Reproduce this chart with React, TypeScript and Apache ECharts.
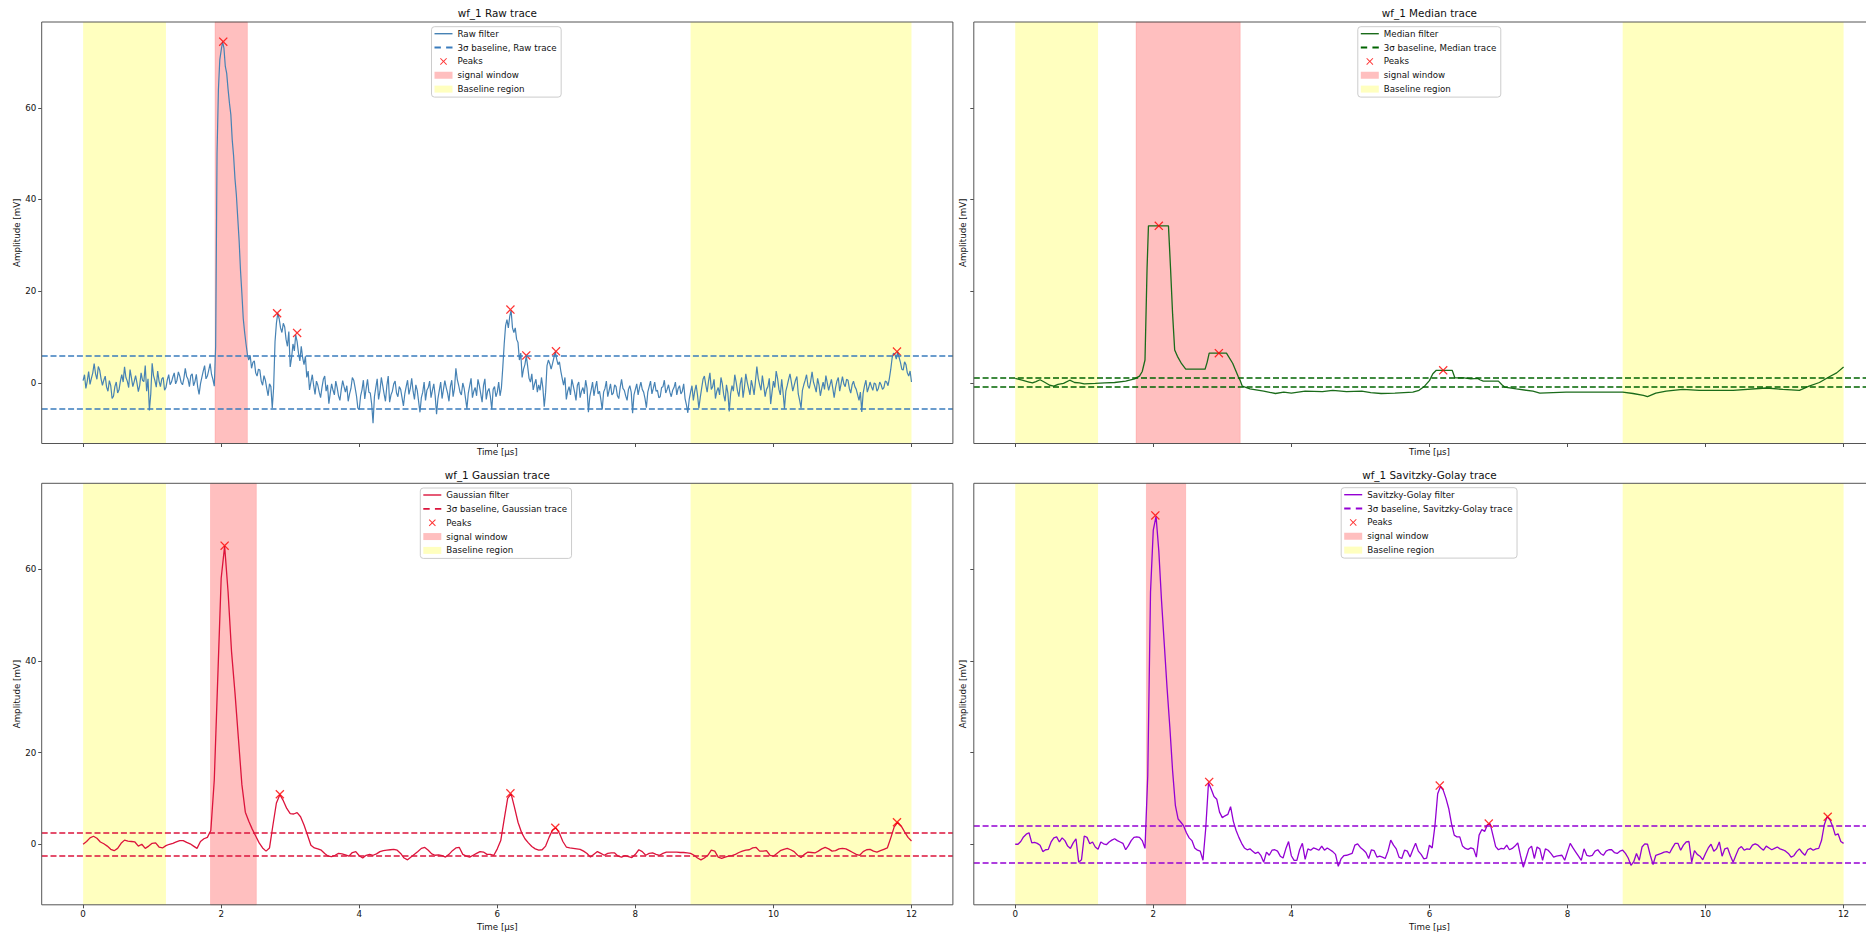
import React, { useEffect, useRef } from 'react';
import * as echarts from 'echarts';

// ---------- data ----------
const DT_RAW = 0.02;
const DT_GAUSS = 0.05;
const DT_SG = 0.04;

const RAW_VALUES = [
  0.5, 1.8, -1.2, 0.4, 2.5, -0.3, 1.0, 2.2, 4.2, 2.0, 0.8, 3.6, 2.8, 0.9, -0.5, 0.6, 1.5, -0.9, -1.8, 0.5,
  -0.6, -3.4, -2.9, -0.8, 0.2, -2.2, -1.5, 0.4, 1.8, 0.2, 3.5, 1.2, 0.4, -1.0, 2.9, 1.1, -0.8, 0.3, 1.6, 0.0,
  -1.9, -0.5, 2.2, 0.6, 0.3, 3.8, -1.8, 0.9, -6.0, -2.4,
  4.3, 1.6, 0.5, -0.9, 2.6, 0.4, -0.8, 0.9, 1.2, -1.6, -1.0, 0.7, 1.8, -0.4, 0.2, 1.3, 2.2, -0.2, 0.6, 2.4,
  1.5, 0.1, -0.4, 1.0, 3.2, 1.4, 0.8, -0.8, 1.6, 2.0, -0.6, 0.3, 1.9, -0.9, -2.5, -0.2, 1.2, 2.6, 3.8, 0.9,
  1.5, 2.8, 4.2, 1.9, 0.8, -0.7, 8.0, 50.0, 64.0, 70.5,
  72.5, 74.4, 73.0, 69.0, 67.5, 64.0, 61.0, 58.5, 53.0, 49.5, 44.5, 41.0, 36.0, 31.0, 24.5, 19.5, 14.0, 11.0, 8.5, 6.2,
  5.0, 6.0, 3.2, 4.5, 4.8, 2.2, 1.5, 3.0, 2.8, 0.4, -0.5, 1.6, 0.6, -1.2, -2.8, -0.2, -0.8, -5.5, -1.0, 9.0,
  13.0, 15.2, 14.0, 12.0, 11.0, 13.0, 12.2, 9.5, 8.0, 11.2,
  3.5, 5.5, 8.5, 7.0, 10.5, 9.0, 6.5, 4.8, 8.0, 5.5, 4.0, 5.8, 1.2, 2.6, -1.5, 0.2, 1.8, -0.6, -2.5, 0.4,
  -0.5, -2.0, -3.2, -1.0, 0.8, 1.5, -1.8, -0.4, -4.5, -2.2, -0.2, -1.6, -2.6, 0.4, -1.0, -2.8, -3.8, -1.4, 0.5, -0.8,
  -2.0, -0.6, -4.0, -2.4, -1.2, 1.2, 0.6, -1.0, -2.8, -5.5,
  -5.8, -2.8, -1.5, 0.6, -3.5, -1.2, 0.8, -2.0, -2.2, -4.6, -8.8, -3.0, -1.0, 0.9, -3.6, -1.8, 1.2, -0.6, -2.4, -4.0,
  -0.6, 1.5, -4.2, -2.6, -1.8, -0.2, 0.4, -2.2, -3.0, -0.8, -1.4, -3.2, -5.0, -2.4, -0.8, 0.6, -2.5, -1.2, 1.0, -1.8,
  -3.6, -0.4, -1.6, -4.0, -6.4, -3.2, -2.0, 0.2, -3.8, -1.6,
  -1.0, 0.4, -3.2, -1.6, -0.2, -2.8, -6.8, -3.4, -1.6, 0.2, -3.4, -1.4, 0.5, -1.0, -2.2, -4.0, -0.8, 0.6, -3.0, -1.2,
  3.2, 0.8, -0.5, -2.0, -2.6, 0.0, -1.2, -3.4, -5.6, -2.2, -0.6, 1.0, -3.2, -1.8, -1.0, -2.8, 0.8, -0.6, -2.4, -4.2,
  -0.6, 0.9, -3.6, -1.8, -1.2, -3.0, -5.8, -1.4, -0.8, -3.0,
  -2.0, 0.2, -2.8, -1.0, 3.5, 8.5, 12.5, 13.8, 12.0, 14.5, 15.8, 12.0, 11.0, 12.0, 9.5, 8.8, 5.0, 6.5, 1.2, 3.0,
  4.0, 5.9, 3.6, 1.0, 0.2, 2.0, -1.5, -0.2, 0.8, -2.0, -0.4, -1.6, 1.2, -1.0, -5.2, -2.0, 3.8, 5.0, 4.2, 3.0,
  4.2, 5.5, 6.8, 5.2, 4.0, 4.6, 2.6, 1.0, -0.5, 1.2,
  -3.6, -1.8, -0.8, -2.6, 0.8, -0.6, -2.0, -3.8, -0.5, 0.2, -3.2, -1.8, -1.0, -2.4, 0.6, -1.2, -6.4, -3.0, -1.5, 0.2,
  -2.8, -1.0, 0.4, -2.4, -1.8, -3.6, -5.8, -2.0, -1.2, 0.4, -3.0, -1.6, -0.2, -2.6, -2.2, -0.4, -0.8, -2.8, -3.4, -1.0,
  0.8, -1.2, -1.6, -2.8, -3.8, -1.4, -0.6, -2.0, -6.6, -2.6,
  -1.4, -0.2, -2.6, -1.0, 0.2, -1.4, -2.0, -3.4, -5.4, -2.0, -0.8, 0.4, -2.4, -1.2, 0.2, -1.8, -1.6, -3.2, -3.0, -1.0,
  -0.8, 0.6, -2.2, -1.4, -0.4, -2.0, -3.0, -1.6, -1.0, 0.2, -2.6, -1.2, -0.6, -2.4, -1.8, -0.2, -3.4, -4.8, -6.5, -3.6,
  -2.0, -0.6, -3.8, -1.8, -0.4, -2.6, -5.5, -3.2, -1.2, 0.8,
  1.5, -0.4, -2.0, 0.4, 2.2, -1.4, -0.8, 0.8, -3.4, -1.8, -1.0, -2.6, 1.2, -0.2, -2.6, -4.0, -0.4, -2.2, -6.2, -2.4,
  -0.6, -1.8, 1.8, 0.2, -1.8, -3.0, -0.2, 1.2, -3.2, -1.0, 2.0, 0.2, -1.2, -2.6, 0.6, -0.8, -2.6, 0.4, 3.6, 1.0,
  -0.4, -1.6, 1.6, -0.6, -3.0, -1.4, -0.8, 1.0, -4.6, -2.0,
  0.4, -1.0, 2.6, 1.0, -1.4, -2.6, 0.8, -2.2, -5.6, -1.8, -0.6, 0.8, 2.0, 0.2, -1.8, -0.6, 0.6, 1.4, -2.4, -3.8,
  -5.5, -1.6, -0.4, 0.6, 1.8, -0.6, -1.2, 0.4, 2.4, 0.2, -0.8, -2.0, 1.0, -0.4, -2.8, -1.2, 0.2, -1.4, 1.6, 0.0,
  -1.6, -0.4, 0.8, -1.2, -3.2, -1.0, 0.4, 1.2, -1.8, -0.2,
  1.4, -0.2, -0.8, 0.8, 0.6, -1.2, -2.2, -0.4, 0.4, -0.8, -1.4, -2.6, -3.8, -2.0, -6.3, -2.2, -0.6, 0.6, -2.0, -1.0,
  0.2, -0.8, -1.6, 0.0, -0.2, -1.8, -1.2, 0.2, -0.4, -1.4, -1.0, 0.4, 0.2, -0.6, 1.0, 3.0, 5.5, 6.5, 6.2, 5.2,
  6.8, 5.6, 4.5, 3.0, 2.8, 4.6, 4.0, 2.2, 1.5, 2.6, 0.2,
];

const MEDIAN_POINTS: [number, number][] = [
  [0, 1.0], [0.1, 0.6], [0.2, 0.2], [0.25, 0.0], [0.3, 0.3], [0.36, 0.7], [0.42, 0.2], [0.5, -0.5], [0.56, -0.7],
  [0.62, -0.3], [0.7, -0.1], [0.79, 0.6], [0.86, 0.1], [0.93, 0.0], [1.0, -0.2], [1.16, -0.1], [1.3, 0.0], [1.44, 0.1],
  [1.6, 0.4], [1.73, 0.9], [1.8, 1.5], [1.84, 2.5], [1.88, 5.0], [1.91, 25.0], [1.93, 34.25], [2.22, 34.25], [2.25, 25.0],
  [2.28, 15.0], [2.31, 7.2], [2.35, 5.8], [2.41, 4.2], [2.47, 3.0], [2.75, 3.0], [2.78, 4.5], [2.81, 6.5], [3.06, 6.5],
  [3.15, 4.3], [3.23, 1.4], [3.26, 0.5], [3.29, -0.7], [3.4, -1.3], [3.6, -1.8], [3.77, -2.3], [3.89, -2.0], [4.0, -2.2],
  [4.2, -1.8], [4.45, -1.9], [4.6, -1.6], [4.8, -1.9], [5.02, -1.8], [5.15, -2.1], [5.3, -2.3], [5.5, -2.2], [5.76, -2.0],
  [5.85, -1.6], [5.93, -0.7], [6.0, 0.5], [6.05, 2.0], [6.1, 2.76], [6.33, 2.76], [6.37, 1.1], [6.5, 1.1], [6.6, 0.9],
  [6.7, 1.0], [6.73, 0.7], [6.78, 0.4], [7.0, 0.4], [7.05, -0.4], [7.09, -0.9], [7.26, -1.3], [7.5, -1.8], [7.6, -2.2],
  [7.98, -2.0], [8.46, -2.0], [8.8, -2.0], [8.95, -2.3], [9.1, -2.7], [9.16, -3.0], [9.28, -2.2], [9.43, -1.8], [9.67, -1.4],
  [9.91, -1.6], [10.4, -1.6], [10.88, -1.1], [11.12, -1.4], [11.36, -1.6], [11.5, -0.7], [11.65, 0.1], [11.8, 1.4],
  [11.9, 2.2], [12.0, 3.5],
];

const GAUSS_VALUES = [
  0.0, 0.6, 1.4, 1.75, 1.3, 0.5, 0.1, -0.4, -1.1, -1.4, -0.9, 0.2, 0.9, 0.7, 0.6, 0.5, -0.4, 0.0, -0.9, -0.4,
  0.2, 0.3, -0.6, -0.8, -0.3, 0.0, 0.2, 0.5, 0.8, 0.8, 0.4, 0.1, -0.4, -0.9, 0.6, 1.2, 1.5, 3.0, 14.0, 36.0,
  58.0, 65.0, 55.0, 42.0, 33.0, 23.0, 13.0, 7.0, 5.0, 3.3, 1.8, 0.3, -0.8, -1.5, -0.8, 4.2, 9.0, 10.8, 9.5, 7.8,
  6.7, 6.6, 6.9, 6.0, 4.2, 2.0, -0.2, -0.8, -1.0, -1.3, -2.0, -2.6, -2.7, -2.4, -2.0, -2.1, -2.3, -2.6, -1.8, -1.6,
  -2.5, -3.0, -2.4, -2.2, -2.4, -2.1, -1.6, -1.4, -1.3, -1.2, -1.1, -1.3, -2.0, -3.0, -3.4, -2.8, -2.2, -1.6, -0.9, -0.7,
  -1.3, -2.1, -2.4, -2.3, -2.5, -2.8, -2.2, -1.4, -0.8, -0.7, -2.2, -2.6, -2.8, -2.4, -2.0, -1.6, -1.7, -2.2, -2.2, -2.4,
  -1.0, 0.8, 5.5, 10.0, 11.0, 8.0, 4.8, 2.6, 1.2, 0.3, -0.5, -1.0, -1.3, -1.2, -0.4, 1.5, 3.1, 3.6, 2.4, 0.6,
  -0.6, -0.8, -0.9, -1.0, -1.1, -1.5, -2.0, -2.8, -2.2, -1.6, -2.0, -2.4, -2.0, -1.9, -1.9, -2.6, -2.8, -2.5, -2.7, -2.9,
  -2.2, -1.2, -1.6, -2.4, -2.0, -1.9, -2.2, -2.4, -2.0, -1.7, -1.7, -1.7, -1.7, -1.8, -1.8, -1.9, -2.0, -2.4, -3.0, -3.4,
  -3.0, -2.4, -1.3, -1.5, -2.8, -3.1, -2.8, -2.6, -2.5, -2.2, -1.8, -1.5, -1.3, -1.2, -0.8, -0.7, -1.5, -1.5, -1.4, -2.4,
  -2.6, -2.0, -1.4, -1.1, -0.9, -1.2, -1.6, -2.4, -2.9, -2.2, -1.7, -1.8, -1.9, -1.5, -1.0, -0.7, -1.0, -1.5, -1.4, -1.0,
  -0.9, -1.0, -1.4, -1.8, -2.2, -2.4, -1.6, -1.2, -1.1, -1.5, -1.7, -1.4, -1.1, -0.8, 1.4, 3.8, 4.8, 4.0, 2.7, 1.5, 0.7,
];

const SG_VALUES = [
  0.0, 0.0, 0.6, 1.6, 2.2, 2.5, 0.3, 0.4, 0.2, -0.2, -1.6, -1.2, -1.1, 0.5, 1.4, 1.6, 0.5, 1.4, 0.8, -0.4, -0.9, 0.3, 1.2, -3.9, -3.4,
  1.8, 1.5, 0.1, 0.5, -0.6, -1.1, 0.5, 0.1, -0.1, 0.5, 0.9, 1.2, 0.8, 0.5, 0.2, -1.2, -0.3, 0.8, 1.5, 1.6, 1.5, 0.8, -0.9, 15.0, 55.0,
  68.5, 71.5, 64.0, 53.0, 43.5, 34.0, 25.5, 16.0, 8.5, 5.5, 4.8, 4.0, 2.5, 1.4, 0.8, -0.8, -1.3, -1.5, -3.5, 3.5, 13.4, 12.0, 10.4, 9.8, 7.0,
  5.8, 6.2, 6.5, 8.2, 5.0, 3.0, 1.5, 0.2, -0.8, -1.2, -1.0, -1.5, -2.0, -1.7, -2.5, -3.9, -1.7, -2.4, -1.3, -1.2, -1.5, -2.6, -3.0, -1.0, 0.6,
  -2.5, -3.5, -3.5, -1.2, 0.2, -3.3, -1.0, -1.3, -0.8, -1.0, -1.3, -0.4, -1.3, -0.8, -1.2, -1.6, -2.2, -4.8, -3.2, -2.5, -2.4, -2.2, -2.0, -0.2, 0.1,
  -0.7, -1.2, -1.8, -3.1, -1.2, -1.4, -2.8, -2.6, -2.8, -3.1, -1.5, 0.9, -0.2, -1.0, -2.8, -3.1, -1.3, -1.5, -2.8, -1.2, 0.2, -1.5, -2.2, -3.2, -3.0,
  -0.2, -0.8, 4.0, 11.0, 12.6, 11.8, 10.0, 7.8, 4.5, 2.0, 1.6, 1.6, -0.4, -0.9, -1.1, -0.8, -1.0, -2.8, 2.0, 3.2, 2.8, 4.2, 4.5, 2.0, -0.5,
  -1.2, -0.9, -1.0, -0.2, -1.2, -0.9, -0.4, 0.3, -2.5, -5.0, -3.0, -1.0, -0.4, -3.1, -0.6, -1.0, -3.5, -1.0, -1.3, -2.0, -2.8, -2.6, -2.5, -2.4, -3.5,
  -1.6, 0.2, -0.8, -1.7, -2.6, -3.5, -1.0, -2.4, -2.6, -2.4, -1.5, -1.2, -2.0, -2.4, -1.5, -1.2, -1.2, -1.8, -2.0, -1.5, -1.3, -2.0, -3.0, -4.6, -3.8,
  -2.0, -3.5, -0.6, 0.1, 0.0, -2.4, -4.4, -2.4, -2.2, -2.0, -1.7, -1.6, -1.9, -0.8, 0.2, 0.2, -1.3, -0.2, 0.5, 0.6, -3.9, -1.4, -2.2, -2.6, -3.4,
  -2.0, -0.8, 0.0, -1.5, -1.0, 0.5, -2.6, -1.0, -0.8, -2.5, -3.9, -2.4, -1.0, -0.5, -1.3, -1.0, -1.1, -0.2, 0.1, -0.2, -0.8, -1.3, -0.4, -0.8, -1.2,
  -0.9, -0.6, -1.0, -1.2, -1.5, -2.0, -2.8, -2.5, -1.6, -1.0, -1.8, -2.4, -1.2, -0.9, -1.3, -1.0, -0.9, 0.8, 4.2, 6.0, 5.4, 4.0, 2.0, 2.3, 0.6, 0.2,
];

const RAW_PEAK_T = [2.03, 2.81, 3.1, 6.19, 6.42, 6.85, 11.79];
const RAW_PEAK_V = [74.4, 15.2, 10.9, 16.0, 6.0, 6.9, 6.85];
const MED_PEAK_T = [2.08, 2.95, 6.2];
const MED_PEAK_V = [34.25, 6.5, 2.76];
const GAUSS_PEAK_T = [2.05, 2.85, 6.19, 6.84, 11.79];
const GAUSS_PEAK_V = [65.1, 10.9, 11.1, 3.6, 4.8];
const SG_PEAK_T = [2.03, 2.81, 6.15, 6.86, 11.77];
const SG_PEAK_V = [71.7, 13.6, 12.8, 4.5, 6.0];

const SIGNAL_WINDOWS = [[1.91, 2.38], [1.75, 3.26], [1.845, 2.51], [1.9, 2.47]];
const BASELINE_REGIONS = [[0, 1.2], [8.8, 12.0]];
const BASELINE_LEVELS = [[6.0, -5.7], [1.05, -0.8], [2.45, -2.45], [3.95, -4.0]];

const TITLES = ['wf_1 Raw trace', 'wf_1 Median trace', 'wf_1 Gaussian trace', 'wf_1 Savitzky-Golay trace'];
const TRACE_NAMES = ['Raw filter', 'Median filter', 'Gaussian filter', 'Savitzky-Golay filter'];
const BASE_NAMES = ['3σ baseline, Raw trace', '3σ baseline, Median trace', '3σ baseline, Gaussian trace', '3σ baseline, Savitzky-Golay trace'];
const X_TICKS = [0, 2, 4, 6, 8, 10, 12];
const Y_TICKS = [0, 20, 40, 60];

// ---------- styles / layout ----------
const TRACE_COLORS = ['#4682b4', '#1a6b1a', '#dc143c', '#9400d3'];
const BASE_COLORS = ['#3a7cbd', '#006400', '#dc143c', '#9400d3'];
const FONT = "'DejaVu Sans', sans-serif";
const X_PATH = 'path://M1,0L5,4L9,0L10,1L6,5L10,9L9,10L5,6L1,10L0,9L4,5L0,1Z';
const SOLID_ICON = 'path://M0,0H18V1.4H0Z';
const DASH_ICON = 'path://M0,0H5.6V1.7H0ZM10.2,0H15.8V1.7H10.2Z';
const CANVAS_W = 1900; // wider than the page: right-hand panels are cut by the page edge
const GRIDS = [
  { left: 41.7, top: 22 },
  { left: 973.8, top: 22 },
  { left: 41.7, top: 483.3 },
  { left: 973.8, top: 483.3 },
];
const GW = 911.2;
const GH = 421.5;
const LEGEND_POS = [[431.5, 26.7], [1357.8, 26.7], [420.3, 488], [1341.2, 487.7]];

const uniform = (vals: number[], dt: number) => vals.map((v, i) => [Math.round(i * dt * 1000) / 1000, v]);
const pairs = (t: number[], v: number[]) => t.map((x, i) => [x, v[i]]);

const TRACES = [
  uniform(RAW_VALUES, DT_RAW),
  MEDIAN_POINTS,
  uniform(GAUSS_VALUES, DT_GAUSS),
  uniform(SG_VALUES, DT_SG),
];
const PEAKS = [
  pairs(RAW_PEAK_T, RAW_PEAK_V),
  pairs(MED_PEAK_T, MED_PEAK_V),
  pairs(GAUSS_PEAK_T, GAUSS_PEAK_V),
  pairs(SG_PEAK_T, SG_PEAK_V),
];

function buildOption() {
  const series: any[] = [];
  const xAxis: any[] = [];
  const yAxis: any[] = [];
  const grid: any[] = [];
  const legend: any[] = [];
  const graphic: any[] = [];
  const textBase = { fontFamily: FONT, color: '#111' };

  for (let i = 0; i < 4; i++) {
    const bottom = i >= 2;
    const leftCol = i % 2 === 0;
    grid.push({ left: GRIDS[i].left, top: GRIDS[i].top, width: GW, height: GH, containLabel: false });
    xAxis.push({
      type: 'value', gridIndex: i, min: -0.6, max: 12.6, z: 5, position: 'bottom',
      axisLine: { show: false, onZero: false },
      splitLine: { show: false },
      axisTick: { show: true, inside: false, length: 3.5, customValues: X_TICKS, lineStyle: { color: '#222', width: 0.8 } },
      axisLabel: { show: bottom, customValues: X_TICKS, margin: 4.5, fontSize: 8.7, ...textBase },
      name: 'Time [μs]', nameLocation: 'middle', nameGap: bottom ? 17.5 : 3.5,
      nameTextStyle: { fontSize: 8.7, ...textBase },
    });
    yAxis.push({
      type: 'value', gridIndex: i, min: -13.2, max: 78.7, z: 5, position: 'left',
      axisLine: { show: false, onZero: false },
      splitLine: { show: false },
      axisTick: { show: true, inside: false, length: 3.5, customValues: Y_TICKS, lineStyle: { color: '#222', width: 0.8 } },
      axisLabel: { show: leftCol, customValues: Y_TICKS, margin: 5.3, fontSize: 8.7, ...textBase },
      name: 'Amplitude [mV]', nameLocation: 'middle', nameGap: leftCol ? 20.5 : 6.3,
      nameTextStyle: { fontSize: 8.7, ...textBase },
    });

    // shaded regions
    series.push({
      type: 'line', name: 'signal window', xAxisIndex: i, yAxisIndex: i, data: [], z: 1,
      symbol: 'none', silent: true,
      itemStyle: { color: 'rgba(255,0,0,0.25)' },
      lineStyle: { color: 'rgba(255,0,0,0.25)' },
      markArea: {
        silent: true, label: { show: false },
        itemStyle: { color: 'rgba(255,0,0,0.25)', borderColor: 'rgba(255,0,0,0.12)', borderWidth: 1 },
        data: [[{ xAxis: SIGNAL_WINDOWS[i][0] }, { xAxis: SIGNAL_WINDOWS[i][1] }]],
      },
    });
    series.push({
      type: 'line', name: 'Baseline region', xAxisIndex: i, yAxisIndex: i, data: [], z: 1,
      symbol: 'none', silent: true,
      itemStyle: { color: 'rgba(255,255,0,0.25)' },
      lineStyle: { color: 'rgba(255,255,0,0.25)' },
      markArea: {
        silent: true, label: { show: false },
        itemStyle: { color: 'rgba(255,255,0,0.25)' },
        data: BASELINE_REGIONS.map((r) => [{ xAxis: r[0] }, { xAxis: r[1] }]),
      },
    });
    // trace
    series.push({
      type: 'line', name: TRACE_NAMES[i], xAxisIndex: i, yAxisIndex: i, data: TRACES[i], z: 3,
      symbol: 'none', silent: true,
      itemStyle: { color: TRACE_COLORS[i] },
      lineStyle: { color: TRACE_COLORS[i], width: i === 0 ? 1.2 : 1.3 },
    });
    // 3 sigma baselines
    series.push({
      type: 'line', name: BASE_NAMES[i], xAxisIndex: i, yAxisIndex: i, data: [], z: 3,
      symbol: 'none', silent: true,
      itemStyle: { color: BASE_COLORS[i] },
      lineStyle: { color: BASE_COLORS[i], width: 1.7, type: [6, 2.8] },
      markLine: {
        silent: true, symbol: ['none', 'none'], label: { show: false },
        lineStyle: { color: BASE_COLORS[i], width: 1.7, type: [6, 2.8] },
        data: BASELINE_LEVELS[i].map((v) => ({ yAxis: v })),
      },
    });
    // peaks
    series.push({
      type: 'scatter', name: 'Peaks', xAxisIndex: i, yAxisIndex: i, data: PEAKS[i], z: 4,
      symbol: X_PATH, symbolSize: 9, silent: true,
      itemStyle: { color: '#ff0000' },
    });

    legend.push({
      orient: 'vertical', left: LEGEND_POS[i][0], top: LEGEND_POS[i][1],
      data: [
        { name: TRACE_NAMES[i], icon: SOLID_ICON },
        { name: BASE_NAMES[i], icon: DASH_ICON },
        { name: 'Peaks', icon: X_PATH },
        { name: 'signal window', icon: 'rect' },
        { name: 'Baseline region', icon: 'rect' },
      ],
      itemWidth: 18, itemHeight: 7, itemGap: 4.85,
      padding: [2.5, 4.5, 3.5, 3],
      backgroundColor: 'rgba(255,255,255,0.8)', borderColor: '#cccccc', borderWidth: 1, borderRadius: 3,
      textStyle: { fontSize: 8.7, lineHeight: 9, ...textBase },
      selectedMode: false, z: 50,
    });

    graphic.push({
      type: 'rect', z: 100, silent: true,
      shape: { x: GRIDS[i].left, y: GRIDS[i].top, width: GW, height: GH },
      style: { fill: 'none', stroke: '#555', lineWidth: 1 },
    });
    graphic.push({
      type: 'text', z: 100, silent: true,
      x: GRIDS[i].left + GW / 2, y: bottom ? 474.7 : 13.3,
      style: { text: TITLES[i], align: 'center', verticalAlign: 'middle', fontSize: 10.4, fontFamily: FONT, fill: '#111' },
    });
  }

  return {
    animation: false,
    backgroundColor: '#ffffff',
    grid, xAxis, yAxis, series, legend, graphic,
  };
}

export default function App() {
  const ref = useRef<HTMLDivElement>(null);
  useEffect(() => {
    if (!ref.current) return;
    const chart = echarts.init(ref.current, null, { renderer: 'svg' });
    chart.setOption(buildOption() as any);
    return () => chart.dispose();
  }, []);
  return (
    <div style={{ position: 'absolute', left: 0, top: 0, width: 1866, height: 934, overflow: 'hidden', background: '#fff' }}>
      <div ref={ref} style={{ width: CANVAS_W, height: 934 }} />
    </div>
  );
}
